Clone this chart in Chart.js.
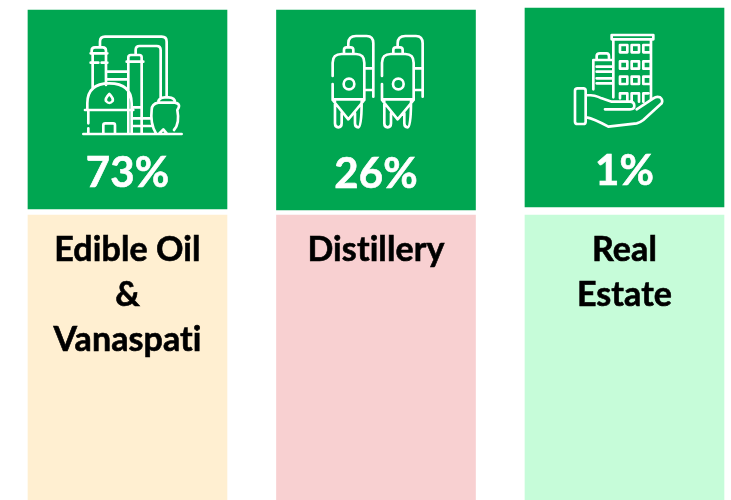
<!DOCTYPE html>
<html lang="en">
<head>
<meta charset="utf-8">
<title>Business segments</title>
<script src="https://cdn.jsdelivr.net/npm/chart.js@4"></script>
<style>
  html, body { margin: 0; padding: 0; background: #fff; }
  #wrap { width: 731px; height: 500px; }
</style>
</head>
<body>
<div id="wrap"><canvas id="segments"></canvas></div>
<script>
const categories = [['Edible Oil', '&', 'Vanaspati'], ['Distillery'], ['Real', 'Estate']];
const shareLabels = ['73%', '26%', '1%'];

// card extents, on a 0-500 axis
const headerLow = [291, 290, 293];
const headerHigh = [490, 490, 492];
const bodyLow = [0, 0, 0];
const bodyHigh = [285, 285, 285];

const bodyColors = ['#ffefd1', '#f8d0d1', '#c6fcd9'];
const GREEN = '#00a651';

// icons traced at 3x, [offset from bar centre, offset from bar top, path]
const icons = [
  [-57.5, 10, `M40 342H335
    M62 100H112M65 100V92Q65 82 75 82H98Q108 82 108 92V100M68 100V205M108 100V195M62 128H85M95 128H112
    M90 82V65Q90 50 105 50H275Q290 50 290 65V232M197 105V90Q197 78 209 78H260Q272 78 272 90V232
    M170 125H220M175 125V112Q175 105 183 105H208Q215 105 215 112V125M175 125V340M215 125V340
    M110 155H175M110 178H175
    M52 270V250Q52 190 118 190Q185 190 185 250V270M45 270H190M55 270V310M55 325V340M185 270V340
    M100 340V316Q100 310 106 310H130Q135 310 135 316V340
    M118 222Q105 235 108 243Q118 255 128 243Q131 235 118 222Z
    M190 262H215M185 295H245M190 318H245
    M265 248Q265 232 285 232H295Q315 232 315 248M245 270Q245 252 265 248H315Q335 252 322 270
    M245 270Q240 310 258 340M322 270Q330 310 312 330M268 340L280 328L290 340`],
  [-56, 10, `M38 168V128Q38 102 65 102H108Q133 102 133 128V240M38 192V240M38 238H133
    M38 240L85 298L133 240M45 245V310Q45 322 55 322Q65 322 65 310V280M105 280V310Q105 322 115 322Q125 322 125 245
    M72 100V90Q72 82 80 82H92Q100 82 100 90V100
    M85 80V70Q85 48 108 48H140Q160 48 160 70V230M135 145H160M135 210H160
    M103 192A16 16 0 1 0 71 192A16 16 0 1 0 103 192Z
    M186 168V128Q186 102 213 102H256Q281 102 281 128V240M186 192V240M186 238H281
    M186 240L233 298L281 240M193 245V310Q193 322 203 322Q213 322 213 310V280M253 280V310Q253 322 263 322Q273 322 273 245
    M220 100V90Q220 82 228 82H240Q248 82 248 90V100
    M233 80V70Q233 48 256 48H288Q308 48 308 70V230M283 145H308M283 210H308
    M251 192A16 16 0 1 0 219 192A16 16 0 1 0 251 192Z`],
  [-59.5, 12, `M145 232V60M258 240V60M140 58V45H265V58H140
    M165 75H187V97H165ZM200 75H222V97H200ZM235 75H257V97H235Z
    M165 124H187V146H165ZM200 124H222V146H200ZM235 124H257V146H235Z
    M165 170H187V192H165ZM200 170H222V192H200ZM235 170H257V192H235Z
    M165 235V220H187V240M200 245V220H222V245M235 245V220H250
    M85 208V120H140M95 118V108Q95 100 105 100H125Q132 100 132 110V120
    M95 140H145M95 155H145M95 175H145M95 190H145
    M30 212Q30 205 38 205H55Q62 205 62 212V305Q62 312 55 312H38Q30 312 30 305Z
    M65 225Q90 225 110 235L140 245H195Q208 245 208 258Q208 268 195 268H120
    M65 292Q85 295 130 320L215 310Q225 308 235 300L290 250Q295 240 285 232Q275 228 265 235L215 268`]
];

function heavyText(ctx, text, x, y, color) {
  ctx.fillStyle = color;
  ctx.strokeStyle = color;
  ctx.lineWidth = 0.6;
  ctx.fillText(text, x, y);
  ctx.strokeText(text, x, y);
}

const cardText = {
  id: 'cardText',
  afterDatasetsDraw(chart) {
    const { ctx } = chart;
    const headers = chart.getDatasetMeta(1).data;
    const bodies = chart.getDatasetMeta(0).data;
    ctx.save();
    ctx.textAlign = 'center';
    ctx.textBaseline = 'alphabetic';
    ctx.letterSpacing = '0.1px'; // stops Lato joining the "ti" ligature
    headers.forEach((bar, i) => {
      const top = Math.min(bar.y, bar.base);
      const bottom = Math.max(bar.y, bar.base);
      const [dx, dy, d] = icons[i];
      ctx.save();
      ctx.translate(bar.x + dx, top + dy);
      ctx.scale(1 / 3, 1 / 3);
      ctx.strokeStyle = '#fff';
      ctx.lineWidth = 8;
      ctx.lineCap = 'round';
      ctx.lineJoin = 'round';
      ctx.stroke(new Path2D(d));
      ctx.restore();

      ctx.font = 'bold 42px Lato';
      heavyText(ctx, shareLabels[i], bar.x, bottom - 22, '#fff');

      const bodyTop = Math.min(bodies[i].y, bodies[i].base);
      ctx.font = 'bold 34px Lato';
      categories[i].forEach((line, n) => {
        heavyText(ctx, line, bar.x, bodyTop + 46 + n * 45, '#000');
      });
    });
    ctx.restore();
  }
};

new Chart(document.getElementById('segments'), {
  type: 'bar',
  data: {
    datasets: [
      {
        label: 'Segment',
        data: bodyLow.map((low, i) => ({ x: i, y: [low, bodyHigh[i]] })),
        backgroundColor: bodyColors,
        grouped: false,
        barThickness: 199
      },
      {
        label: 'Revenue share',
        data: headerLow.map((low, i) => ({ x: i, y: [low, headerHigh[i]] })),
        backgroundColor: GREEN,
        grouped: false,
        barThickness: 199
      }
    ]
  },
  options: {
    responsive: true,
    maintainAspectRatio: false,
    animation: false,
    layout: { padding: 0 },
    scales: {
      x: { type: 'linear', display: false, offset: false, min: -0.513, max: 2.4286 },
      y: { display: false, min: 0, max: 500 }
    },
    plugins: {
      legend: { display: false },
      tooltip: { enabled: false }
    }
  },
  plugins: [cardText]
});
</script>
</body>
</html>
